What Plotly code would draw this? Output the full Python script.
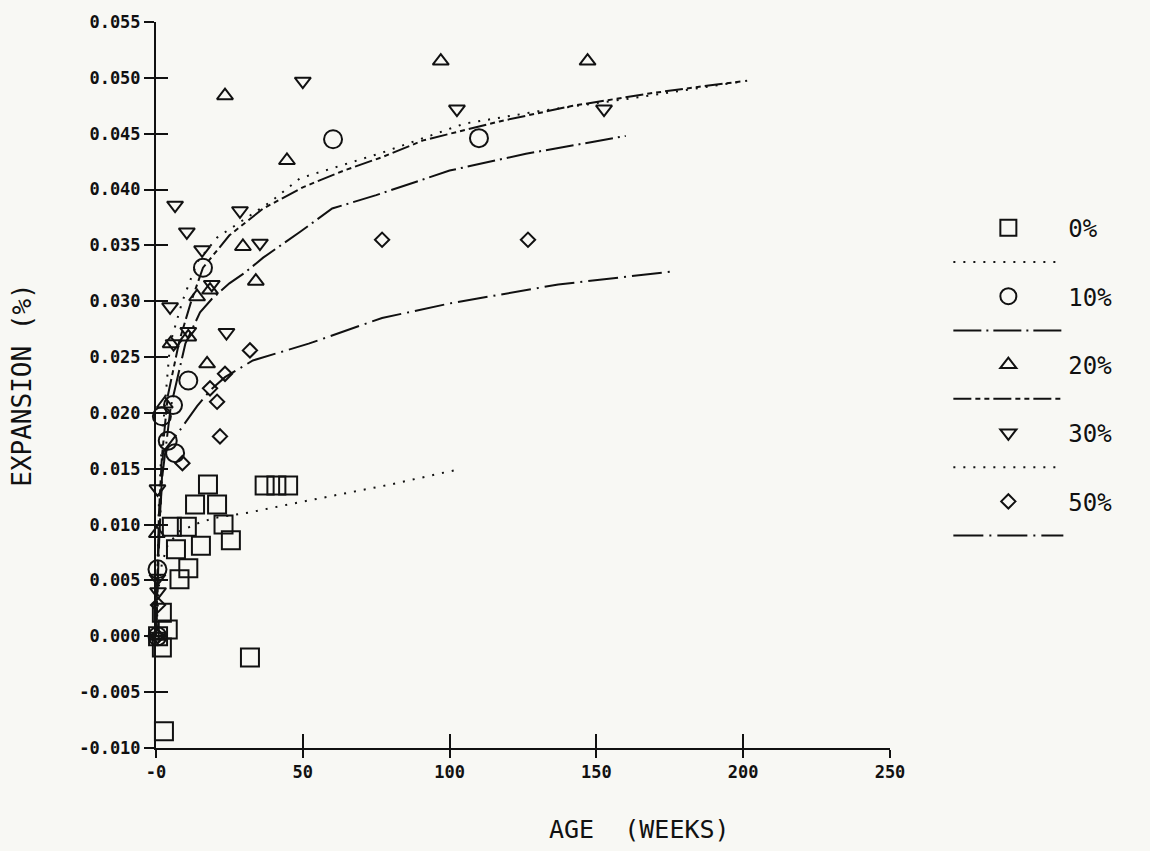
import plotly.graph_objects as go

# ---------------- data ----------------
labels = ["0%", "10%", "20%", "30%", "50%"]

# 0 % (squares)
sq_weeks = [17.7, 37, 41, 45, 13.3, 20.8, 5.4, 10.5, 23, 25.5, 6.8, 15.3, 11, 8, 2, 4, 2, 32, 2.7, 0.7]
sq_exp = [0.0136, 0.0135, 0.0135, 0.0135, 0.0118, 0.0118, 0.0098, 0.0098, 0.0100, 0.0086,
          0.0078, 0.0081, 0.0061, 0.0051, 0.0021, 0.0006, -0.0010, -0.0019, -0.0085, 0.0]

# 10 % (circles)
ci_weeks = [60.3, 110, 16, 11, 5.8, 2, 4, 6.5, 0.5, 0.5]
ci_exp = [0.0445, 0.0446, 0.0330, 0.0229, 0.0207, 0.0197, 0.0175, 0.0164, 0.0060, 0.0]

# 20 % (triangles up)
tu_weeks = [97, 147, 23.5, 44.6, 29.6, 34, 14, 18.4, 11, 17.4, 5.0, 3.0, 0.3, 0.5]
tu_exp = [0.0515, 0.0515, 0.0484, 0.0426, 0.0349, 0.0318, 0.0304, 0.0310, 0.0268, 0.0244,
          0.0262, 0.0208, 0.0092, 0.0]

# 30 % (triangles down)
td_weeks = [50, 102.5, 152.6, 6.5, 10.5, 28.6, 15.7, 35.4, 19, 4.8, 24, 11, 6, 0.5, 0.5, 0.7, 0.5]
td_exp = [0.0497, 0.0472, 0.0472, 0.0386, 0.0362, 0.0381, 0.0346, 0.0352, 0.0315, 0.0295,
          0.0272, 0.0273, 0.0262, 0.0132, 0.0052, 0.0040, 0.0]

# 50 % (diamonds)
di_weeks = [77, 126.7, 32, 23.5, 18.4, 20.8, 21.8, 9, 0.7, 0.5]
di_exp = [0.0355, 0.0355, 0.0256, 0.0235, 0.0222, 0.0210, 0.0179, 0.0155, 0.0028, 0.0]

# fitted curves
fit0_weeks = [0, 1, 2, 4, 8, 15, 20, 32, 45, 63, 80, 104]
fit0_exp = [0.0, 0.0045, 0.0065, 0.0082, 0.0094, 0.0102, 0.0106, 0.0111, 0.0118, 0.0127, 0.0136, 0.0150]

fit10_weeks = [0, 1, 2, 5, 10, 15, 19, 25, 30, 36.5, 49, 60, 75, 100, 126, 160]
fit10_exp = [0.0, 0.009, 0.014, 0.0205, 0.0262, 0.0290, 0.0302, 0.0316, 0.0325, 0.0339,
             0.0362, 0.0383, 0.0395, 0.0417, 0.0432, 0.0448]

fit20_weeks = [0, 1, 2, 4, 8, 12, 16, 25, 36.5, 50, 64, 77, 91, 103.5, 117, 142, 168, 185, 200]
fit20_exp = [0.0, 0.011, 0.016, 0.0215, 0.0265, 0.0300, 0.0330, 0.0359, 0.0383, 0.0402,
             0.0417, 0.0429, 0.0444, 0.0452, 0.0461, 0.0475, 0.0486, 0.0492, 0.0497]

fit30_weeks = [0, 1, 2, 4.8, 9, 14, 20.8, 28.6, 39, 49, 77, 105, 130, 160, 203]
fit30_exp = [0.0, 0.012, 0.0175, 0.0262, 0.0300, 0.0335, 0.0357, 0.0371, 0.0389, 0.0410,
             0.0433, 0.0459, 0.0470, 0.0481, 0.0498]

fit50_weeks = [0, 1, 2.4, 8, 14, 18.4, 23.5, 33, 52, 77, 100, 137, 177]
fit50_exp = [0.0, 0.008, 0.0165, 0.0184, 0.0206, 0.0220, 0.0232, 0.0247, 0.0262, 0.0285,
             0.0298, 0.0315, 0.0327]

x_tickvals = [0, 50, 100, 150, 200, 250]
x_ticktext = ["-0", "50", "100", "150", "200", "250"]
y_tickvals = [0.055, 0.050, 0.045, 0.040, 0.035, 0.030, 0.025, 0.020, 0.015, 0.010, 0.005, 0.000, -0.005, -0.010]
y_ticktext = ["0.055", "0.050", "0.045", "0.040", "0.035", "0.030", "0.025", "0.020", "0.015",
              "0.010", "0.005", "0.000", "-0.005", "-0.010"]

# ---------------- styling ----------------
INK = "#111111"
BG = "#f8f8f4"
MONO = "DejaVu Sans Mono"

point_sets = [(sq_weeks, sq_exp, "square-open", 18),
              (ci_weeks, ci_exp, "circle-open", 18),
              (tu_weeks, tu_exp, "triangle-up-open", 14),
              (td_weeks, td_exp, "triangle-down-open", 14),
              (di_weeks, di_exp, "diamond-open", 11)]
curve_sets = [(fit0_weeks, fit0_exp, "2px,8px"),
              (fit10_weeks, fit10_exp, "28px,5px,2px,5px"),
              (fit20_weeks, fit20_exp, "18px,4px,5px,4px,5px,4px"),
              (fit30_weeks, fit30_exp, "2px,8px"),
              (fit50_weeks, fit50_exp, "30px,6px,2px,6px")]

fig = go.Figure()
for lab, (px, py, sym, sz), (cx, cy, dash) in zip(labels, point_sets, curve_sets):
    fig.add_trace(go.Scatter(x=px, y=py, mode="markers", name=lab, cliponaxis=False,
                             marker=dict(symbol=sym, size=sz, color=INK,
                                         line=dict(color=INK, width=2))))
    fig.add_trace(go.Scatter(x=cx, y=cy, mode="lines", name=" ", cliponaxis=False,
                             line=dict(color=INK, width=2, dash=dash)))

# helper trace for the overlay axes (crossing tick marks)
fig.add_trace(go.Scatter(x=[], y=[], xaxis="x2", yaxis="y2", showlegend=False, hoverinfo="skip"))

tickfont = dict(family=MONO, size=17, color=INK, weight="bold")
fig.update_layout(
    width=1150, height=851,
    paper_bgcolor=BG, plot_bgcolor=BG,
    margin=dict(l=156, r=260, t=15, b=103),
    showlegend=True,
    legend=dict(x=1.0795, y=0.747, xanchor="left", yanchor="top",
                font=dict(family=MONO, size=24, color=INK),
                itemwidth=110, bgcolor="rgba(0,0,0,0)", tracegroupgap=0),
    xaxis=dict(range=[0, 250], tickvals=x_tickvals, ticktext=x_ticktext,
               showgrid=False, zeroline=False, showline=True, linecolor=INK, linewidth=2,
               ticks="outside", ticklen=8, tickwidth=2, tickcolor=INK, tickfont=tickfont),
    yaxis=dict(range=[-0.010, 0.055], tickvals=y_tickvals, ticktext=y_ticktext,
               showgrid=False, zeroline=False, showline=True, linecolor=INK, linewidth=2,
               ticks="outside", ticklen=10, tickwidth=2, tickcolor=INK, tickfont=tickfont,
               title=dict(text="EXPANSION (%)", standoff=40,
                          font=dict(family=MONO, size=26, color=INK))),
    xaxis2=dict(range=[0, 250], tickvals=x_tickvals, overlaying="x", anchor="y2",
                showgrid=False, zeroline=False, showline=False, showticklabels=False,
                ticks="inside", ticklen=14, tickwidth=2, tickcolor=INK),
    yaxis2=dict(range=[-0.010, 0.055], tickvals=y_tickvals, overlaying="y", anchor="x2",
                showgrid=False, zeroline=False, showline=False, showticklabels=False,
                ticks="inside", ticklen=12, tickwidth=2, tickcolor=INK),
    annotations=[dict(text="AGE  (WEEKS)", xref="paper", yref="paper", x=0.659, y=-0.112,
                      xanchor="center", yanchor="middle", showarrow=False,
                      font=dict(family=MONO, size=25, color=INK))],
)

fig.write_html("out.html",
               config={"displayModeBar": False},
               post_script="document.body.style.margin='0';"
                           "document.body.style.background='#f8f8f4';"
                           "document.body.style.overflow='hidden';")
